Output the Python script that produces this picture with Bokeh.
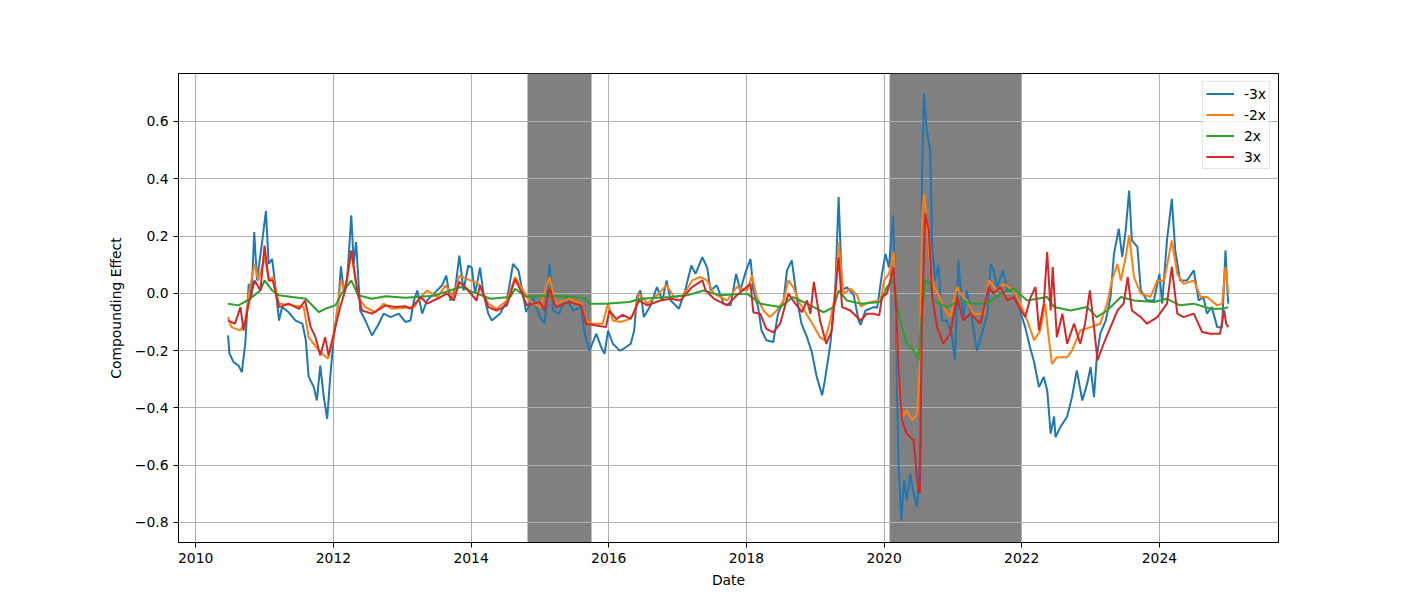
from bokeh.plotting import figure
from bokeh.models import (Range1d, FixedTicker, BoxAnnotation, Legend, LegendItem,
                          CustomJSTickFormatter, ColumnDataSource)
from bokeh.embed import file_html
from bokeh.resources import INLINE

# ---------------- data (decimal year, compounding effect) ----------------
m3_dates = [2010.47, 2010.49, 2010.55, 2010.62, 2010.67, 2010.72, 2010.77, 2010.81, 2010.85, 2010.89,
            2010.955, 2011.02, 2011.06, 2011.11, 2011.16, 2011.21, 2011.255, 2011.35, 2011.45, 2011.55,
            2011.60, 2011.64, 2011.715, 2011.76, 2011.81, 2011.86, 2011.91, 2011.955, 2012.005, 2012.07,
            2012.11, 2012.15, 2012.20, 2012.26, 2012.295, 2012.33, 2012.39, 2012.465, 2012.56, 2012.66,
            2012.73, 2012.83, 2012.95, 2013.045, 2013.12, 2013.17, 2013.22, 2013.29, 2013.36, 2013.46,
            2013.58, 2013.64, 2013.70, 2013.77, 2013.83, 2013.89, 2013.96, 2014.01, 2014.06, 2014.13,
            2014.18, 2014.25, 2014.30, 2014.42, 2014.52, 2014.61, 2014.69, 2014.74, 2014.80, 2014.90,
            2015.0, 2015.07, 2015.14, 2015.19, 2015.28, 2015.38, 2015.48, 2015.60, 2015.65, 2015.72,
            2015.82, 2015.89, 2015.94, 2015.99, 2016.06, 2016.16, 2016.20, 2016.32, 2016.37, 2016.41,
            2016.46, 2016.51, 2016.61, 2016.70, 2016.78, 2016.84, 2016.90, 2017.02, 2017.11, 2017.20,
            2017.26, 2017.36, 2017.43, 2017.48, 2017.57, 2017.67, 2017.77, 2017.85, 2017.91, 2017.99,
            2018.06, 2018.10, 2018.17, 2018.22, 2018.29, 2018.39, 2018.46, 2018.54, 2018.59, 2018.66,
            2018.73, 2018.80, 2018.88, 2018.95, 2019.02, 2019.10, 2019.14, 2019.22, 2019.29, 2019.34,
            2019.39, 2019.46, 2019.56, 2019.63, 2019.66, 2019.73, 2019.85, 2019.90, 2019.97, 2020.02,
            2020.07, 2020.13, 2020.17, 2020.19, 2020.21, 2020.25, 2020.29, 2020.33, 2020.38, 2020.43,
            2020.48, 2020.53, 2020.55, 2020.58, 2020.62, 2020.67, 2020.70, 2020.74, 2020.79, 2020.84,
            2020.91, 2020.98, 2021.03, 2021.08, 2021.15, 2021.20, 2021.28, 2021.35, 2021.42, 2021.50,
            2021.55, 2021.59, 2021.64, 2021.73, 2021.79, 2021.88, 2021.98, 2022.05, 2022.12, 2022.18,
            2022.25, 2022.32, 2022.37, 2022.42, 2022.47, 2022.49, 2022.56, 2022.66, 2022.73, 2022.80,
            2022.88, 2022.95, 2023.0, 2023.05, 2023.09, 2023.14, 2023.22, 2023.29, 2023.34, 2023.41,
            2023.46, 2023.51, 2023.56, 2023.60, 2023.68, 2023.73, 2023.82, 2023.92, 2024.0, 2024.04,
            2024.11, 2024.18, 2024.23, 2024.30, 2024.40, 2024.50, 2024.57, 2024.64, 2024.69, 2024.76,
            2024.84, 2024.91, 2024.96, 2024.99, 2025.0]
m3_values = [-0.147, -0.21, -0.24, -0.252, -0.275, -0.176, 0.033, -0.013, 0.214, 0.045,
             0.161, 0.287, 0.103, 0.12, 0.02, -0.095, -0.048, -0.066, -0.095, -0.106,
             -0.164, -0.29, -0.327, -0.374, -0.252, -0.362, -0.438, -0.29, -0.153, -0.036,
             0.094, 0.01, 0.045, 0.272, 0.103, 0.179, -0.06, -0.095, -0.147, -0.106,
             -0.071, -0.083, -0.071, -0.1, -0.095, -0.025, 0.01, -0.071, -0.025, -0.001,
             0.028, 0.062, -0.025, 0.016, 0.132, 0.01, 0.097, 0.09, -0.001, 0.09,
             -0.001, -0.071, -0.095, -0.071, -0.025, 0.103, 0.079, 0.016, -0.065, -0.013,
             -0.083, -0.106, 0.103, -0.06, -0.071, -0.013, -0.06, -0.048, -0.141, -0.2,
             -0.141, -0.188, -0.211, -0.13, -0.176, -0.2, -0.196, -0.176, -0.13, -0.013,
             0.01, -0.083, -0.042, 0.022, -0.025, 0.045, -0.025, -0.054, 0.01, 0.097,
             0.068, 0.126, 0.09, 0.01, 0.028, -0.036, -0.042, 0.068, 0.01, 0.075,
             0.12, 0.01, -0.048, -0.13, -0.164, -0.17, -0.071, -0.025, 0.08, 0.115,
             -0.013, -0.106, -0.153, -0.205, -0.29, -0.356, -0.304, -0.176, 0.01, 0.336,
             0.01, 0.022, -0.007, -0.095, -0.11, -0.06, -0.048, -0.05, 0.068, 0.138,
             0.09, 0.272, -0.025, -0.362, -0.595, -0.793, -0.653, -0.723, -0.63, -0.70,
             -0.746, -0.537, 0.394, 0.697, 0.569, 0.50, 0.161, 0.045, 0.10, -0.095,
             -0.095, -0.141, -0.234, 0.115, -0.095, 0.01, -0.095, -0.2, -0.141, -0.072,
             0.103, 0.08, 0.022, 0.08, 0.01, 0.01, -0.065, -0.118, -0.188, -0.24,
             -0.327, -0.292, -0.339, -0.49, -0.43, -0.502, -0.467, -0.43, -0.362, -0.269,
             -0.374, -0.316, -0.258, -0.362, -0.223, -0.141, -0.095, -0.013, 0.138, 0.226,
             0.127, 0.22, 0.359, 0.185, 0.162, 0.01, -0.025, -0.025, 0.068, -0.036,
             0.185, 0.33, 0.15, 0.045, 0.045, 0.08, -0.025, -0.013, -0.071, -0.048,
             -0.118, -0.118, 0.15, -0.001, -0.036]

m2_dates = [2010.47, 2010.52, 2010.65, 2010.72, 2010.78, 2010.855, 2010.91, 2011.0, 2011.07, 2011.12,
            2011.21, 2011.40, 2011.57, 2011.64, 2011.79, 2011.92, 2012.005, 2012.11, 2012.17, 2012.26,
            2012.36, 2012.465, 2012.61, 2012.73, 2012.85, 2013.045, 2013.17, 2013.27, 2013.36, 2013.51,
            2013.63, 2013.75, 2013.83, 2013.99, 2014.11, 2014.25, 2014.37, 2014.52, 2014.64, 2014.76,
            2014.85, 2015.0, 2015.14, 2015.23, 2015.43, 2015.60, 2015.67, 2015.77, 2015.91, 2015.99,
            2016.06, 2016.17, 2016.30, 2016.37, 2016.44, 2016.56, 2016.70, 2016.84, 2016.95, 2017.09,
            2017.21, 2017.33, 2017.43, 2017.53, 2017.72, 2017.86, 2018.01, 2018.08, 2018.15, 2018.25,
            2018.34, 2018.44, 2018.54, 2018.61, 2018.68, 2018.78, 2018.93, 2019.07, 2019.14, 2019.22,
            2019.29, 2019.34, 2019.41, 2019.51, 2019.61, 2019.66, 2019.80, 2019.95, 2020.0, 2020.07,
            2020.14, 2020.18, 2020.21, 2020.26, 2020.33, 2020.41, 2020.48, 2020.52, 2020.55, 2020.58,
            2020.62, 2020.67, 2020.72, 2020.79, 2020.86, 2020.96, 2021.06, 2021.11, 2021.20, 2021.30,
            2021.45, 2021.52, 2021.64, 2021.74, 2021.88, 2021.98, 2022.08, 2022.18, 2022.27, 2022.34,
            2022.39, 2022.44, 2022.51, 2022.66, 2022.73, 2022.85, 2023.0, 2023.14, 2023.24, 2023.31,
            2023.39, 2023.44, 2023.51, 2023.56, 2023.63, 2023.73, 2023.87, 2023.97, 2024.07, 2024.18,
            2024.26, 2024.35, 2024.50, 2024.60, 2024.69, 2024.84, 2024.91, 2024.96, 2025.0]
m2_values = [-0.083, -0.118, -0.13, -0.095, 0.01, 0.103, 0.045, 0.126, 0.045, 0.057,
             -0.036, -0.042, -0.048, -0.153, -0.2, -0.228, -0.153, 0.045, 0.01, 0.144,
             -0.013, -0.048, -0.066, -0.036, -0.054, -0.05, -0.048, -0.013, 0.01, -0.013,
             0.028, -0.013, 0.062, 0.045, 0.033, -0.036, -0.054, -0.025, 0.057, 0.01,
             -0.025, -0.048, 0.057, -0.036, -0.019, -0.036, -0.095, -0.106, -0.106, -0.036,
             -0.095, -0.1, -0.09, -0.071, -0.001, -0.036, -0.007, 0.028, -0.013, -0.007,
             0.045, 0.057, 0.045, -0.001, -0.025, 0.022, 0.01, 0.062, -0.013, -0.06,
             -0.083, -0.06, -0.025, 0.045, 0.022, -0.036, -0.095, -0.153, -0.164, -0.095,
             -0.001, 0.179, -0.001, 0.016, -0.007, -0.045, -0.03, -0.025, 0.045, 0.068,
             0.144, -0.071, -0.304, -0.432, -0.409, -0.444, -0.42, -0.258, 0.255, 0.348,
             0.255, 0.092, 0.022, -0.001, -0.048, -0.083, 0.022, -0.001, -0.025, -0.071,
             -0.071, 0.045, 0.01, 0.033, 0.01, -0.036, -0.095, -0.164, -0.13, -0.036,
             -0.153, -0.246, -0.223, -0.223, -0.2, -0.13, -0.118, -0.106, -0.036, 0.045,
             0.103, 0.045, 0.127, 0.202, 0.057, -0.001, -0.013, 0.045, 0.045, 0.185,
             0.068, 0.033, 0.045, -0.013, -0.013, -0.042, -0.036, 0.092, -0.001]

p2_dates = [2010.47, 2010.62, 2010.79, 2010.94, 2011.0, 2011.11, 2011.21, 2011.40, 2011.60, 2011.79,
            2011.88, 2012.03, 2012.12, 2012.26, 2012.36, 2012.56, 2012.76, 2013.045, 2013.46, 2013.85,
            2014.03, 2014.28, 2014.57, 2014.64, 2014.81, 2015.14, 2015.48, 2015.67, 2015.72, 2015.96,
            2016.30, 2016.46, 2016.90, 2017.14, 2017.38, 2017.62, 2018.01, 2018.20, 2018.49, 2018.68,
            2018.88, 2019.12, 2019.27, 2019.34, 2019.46, 2019.66, 2019.95, 2020.04, 2020.14, 2020.19,
            2020.26, 2020.33, 2020.43, 2020.50, 2020.55, 2020.60, 2020.67, 2020.72, 2020.91, 2021.11,
            2021.30, 2021.50, 2021.69, 2021.88, 2022.08, 2022.37, 2022.47, 2022.71, 2022.95, 2023.09,
            2023.24, 2023.44, 2023.63, 2023.92, 2024.11, 2024.30, 2024.50, 2024.74, 2024.93, 2025.0]
p2_values = [-0.036, -0.042, -0.019, 0.01, 0.045, 0.01, -0.007, -0.013, -0.019, -0.066,
             -0.054, -0.042, -0.001, 0.045, -0.007, -0.019, -0.01, -0.015, -0.008, 0.022,
             0.004, -0.019, -0.013, 0.016, -0.013, -0.008, -0.013, -0.019, -0.036, -0.036,
             -0.03, -0.019, -0.013, -0.007, 0.01, -0.007, -0.001, -0.036, -0.048, -0.013,
             -0.036, -0.066, -0.048, 0.01, -0.025, -0.036, -0.03, 0.022, 0.045, -0.048,
             -0.118, -0.176, -0.2, -0.234, -0.071, 0.045, 0.033, -0.025, -0.048, -0.025,
             -0.036, -0.036, -0.001, 0.016, -0.025, -0.013, -0.048, -0.06, -0.048, -0.083,
             -0.06, -0.013, -0.025, -0.03, -0.019, -0.042, -0.036, -0.054, -0.054, -0.048]

p3_dates = [2010.47, 2010.57, 2010.65, 2010.695, 2010.77, 2010.855, 2010.94, 2011.0, 2011.06, 2011.12,
            2011.21, 2011.35, 2011.50, 2011.59, 2011.67, 2011.74, 2011.81, 2011.88, 2011.93, 2012.005,
            2012.10, 2012.17, 2012.26, 2012.34, 2012.415, 2012.56, 2012.76, 2012.90, 2013.045, 2013.12,
            2013.27, 2013.36, 2013.51, 2013.65, 2013.75, 2013.83, 2013.94, 2014.08, 2014.13, 2014.25,
            2014.37, 2014.52, 2014.64, 2014.74, 2014.81, 2015.0, 2015.07, 2015.14, 2015.23, 2015.43,
            2015.60, 2015.67, 2015.82, 2015.96, 2016.01, 2016.11, 2016.20, 2016.32, 2016.44, 2016.56,
            2016.75, 2016.90, 2017.04, 2017.21, 2017.36, 2017.41, 2017.53, 2017.72, 2017.86, 2018.06,
            2018.10, 2018.20, 2018.29, 2018.39, 2018.49, 2018.61, 2018.71, 2018.81, 2018.88, 2018.93,
            2018.98, 2019.07, 2019.16, 2019.24, 2019.34, 2019.39, 2019.51, 2019.66, 2019.75, 2019.85,
            2019.93, 2019.97, 2020.04, 2020.09, 2020.14, 2020.18, 2020.21, 2020.26, 2020.33, 2020.43,
            2020.48, 2020.52, 2020.55, 2020.60, 2020.65, 2020.70, 2020.77, 2020.86, 2020.96, 2021.06,
            2021.15, 2021.25, 2021.40, 2021.52, 2021.59, 2021.69, 2021.79, 2021.88, 2021.98, 2022.05,
            2022.13, 2022.20, 2022.25, 2022.32, 2022.37, 2022.42, 2022.45, 2022.51, 2022.59, 2022.66,
            2022.76, 2022.85, 2022.92, 2022.99, 2023.05, 2023.10, 2023.19, 2023.29, 2023.39, 2023.48,
            2023.54, 2023.60, 2023.73, 2023.82, 2023.97, 2024.11, 2024.18, 2024.26, 2024.35, 2024.50,
            2024.62, 2024.74, 2024.88, 2024.94, 2024.97, 2025.0]
p3_values = [-0.095, -0.106, -0.048, -0.13, -0.036, 0.045, 0.01, 0.167, 0.045, 0.045,
             -0.048, -0.036, -0.054, -0.025, -0.118, -0.153, -0.217, -0.153, -0.217, -0.141,
             -0.048, 0.01, 0.15, 0.022, -0.06, -0.071, -0.042, -0.048, -0.045, -0.054,
             -0.013, -0.036, -0.019, 0.0, -0.025, 0.04, 0.016, -0.025, 0.028, -0.048,
             -0.06, -0.042, 0.05, 0.0, -0.042, -0.03, -0.06, 0.016, -0.048, -0.03,
             -0.042, -0.106, -0.112, -0.118, -0.06, -0.09, -0.075, -0.089, -0.025, -0.042,
             -0.025, -0.019, -0.025, 0.022, 0.045, 0.01, -0.019, -0.042, -0.007, 0.033,
             -0.066, -0.071, -0.124, -0.136, -0.106, -0.001, -0.036, -0.066, -0.025, -0.071,
             0.04, -0.095, -0.176, -0.13, 0.126, -0.048, -0.06, -0.095, -0.071, -0.071,
             -0.077, -0.013, -0.001, 0.045, 0.09, -0.071, -0.269, -0.444, -0.49, -0.514,
             -0.653, -0.70, -0.071, 0.278, 0.22, -0.013, -0.118, -0.176, -0.141, -0.013,
             -0.095, -0.071, -0.106, 0.022, -0.001, 0.022, -0.025, -0.013, -0.055, -0.083,
             -0.013, 0.022, -0.13, -0.036, 0.144, -0.06, 0.092, -0.153, -0.071, -0.176,
             -0.106, -0.176, -0.106, 0.01, -0.118, -0.234, -0.176, -0.118, -0.06, -0.036,
             0.057, -0.06, -0.083, -0.106, -0.083, -0.036, 0.092, -0.071, -0.083, -0.071,
             -0.135, -0.141, -0.141, -0.06, -0.106, -0.118]

series_labels = ["-3x", "-2x", "2x", "3x"]
series_colors = ["#1f77b4", "#ff7f0e", "#2ca02c", "#d62728"]
shade_starts = [2014.82, 2020.08]
shade_ends = [2015.75, 2022.0]
x_ticks = [2010, 2012, 2014, 2016, 2018, 2020, 2022, 2024]
y_ticks = [-0.8, -0.6, -0.4, -0.2, 0.0, 0.2, 0.4, 0.6]

FONT = "DejaVu Sans"
FS = "13.9px"

p = figure(frame_width=1100, frame_height=469,
           min_border_left=178, min_border_top=73, min_border_right=126, min_border_bottom=51,
           x_range=Range1d(2009.75, 2025.73), y_range=Range1d(-0.87, 0.7676),
           output_backend="svg", toolbar_location=None, background_fill_color="white",
           border_fill_color="white")

for s, e in zip(shade_starts, shade_ends):
    p.add_layout(BoxAnnotation(left=s, right=e, fill_color="#808080", fill_alpha=1.0,
                               line_alpha=0, level="image"))

all_dates = [m3_dates, m2_dates, p2_dates, p3_dates]
all_vals = [m3_values, m2_values, p2_values, p3_values]
items = []
for d, v, lab, col in zip(all_dates, all_vals, series_labels, series_colors):
    src = ColumnDataSource(dict(x=d, y=v))
    r = p.line("x", "y", source=src, line_color=col, line_width=2)
    items.append(LegendItem(label=lab, renderers=[r]))

legend = Legend(items=items, location="top_right", margin=8, padding=3, spacing=4,
                label_text_font=FONT, label_text_font_size=FS, label_text_color="black",
                glyph_width=28, glyph_height=17, label_height=17, label_standoff=10,
                border_line_color="#cccccc", border_line_width=1,
                background_fill_color="white", background_fill_alpha=0.8)
p.add_layout(legend)

p.xaxis.ticker = FixedTicker(ticks=x_ticks)
p.yaxis.ticker = FixedTicker(ticks=y_ticks)
p.yaxis.formatter = CustomJSTickFormatter(
    code="return (tick < -1e-9 ? '\u2212' : '') + Math.abs(tick).toFixed(1);")

for ax in (p.xaxis, p.yaxis):
    ax.axis_line_color = "black"
    ax.axis_line_width = 1
    ax.major_tick_line_color = "black"
    ax.major_tick_out = 5
    ax.major_tick_in = 0
    ax.minor_tick_line_color = None
    ax.major_label_text_font = FONT
    ax.major_label_text_font_size = FS
    ax.major_label_text_color = "black"
    ax.axis_label_text_font = FONT
    ax.axis_label_text_font_size = FS
    ax.axis_label_text_font_style = "normal"
    ax.axis_label_text_color = "black"

p.xaxis.axis_label = "Date"
p.yaxis.axis_label = "Compounding Effect"
p.xaxis.axis_label_standoff = 6
p.yaxis.axis_label_standoff = 8

p.grid.grid_line_color = "#b0b0b0"
p.grid.grid_line_width = 1.1
p.outline_line_color = "black"
p.outline_line_width = 1
p.outline_line_alpha = 1

open("out.html", "w").write(file_html(p, INLINE))
